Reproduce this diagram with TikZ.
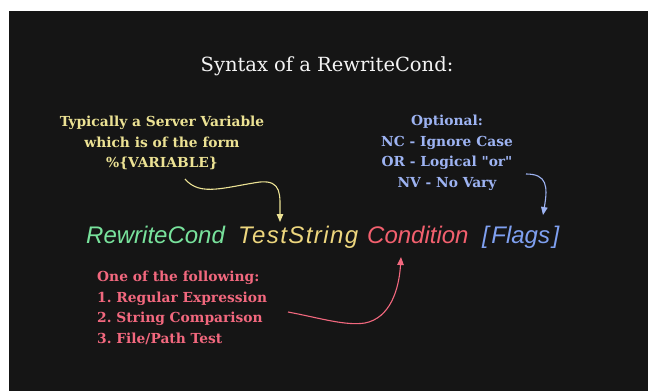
\documentclass[tikz,border=0pt]{standalone}
\usepackage{fontspec}
\setmainfont{DejaVu Serif}[Ligatures=TeXOff]
\newfontfamily\handfont{Liberation Sans}
\usetikzlibrary{arrows.meta}
\definecolor{bg}{HTML}{151515}
\definecolor{titlec}{HTML}{F4F4F4}
\definecolor{noteyellow}{HTML}{ECE294}
\definecolor{noteblue}{HTML}{9DB3F2}
\definecolor{notered}{HTML}{F2687E}
\definecolor{kwgreen}{HTML}{78E29C}
\definecolor{kwyellow}{HTML}{EDD67E}
\definecolor{kwred}{HTML}{F2606E}
\definecolor{kwblue}{HTML}{7FA0F0}
\tikzset{
  note/.style={inner sep=0pt, font=\bfseries\fontsize{13.8}{20.5}\selectfont},
  kw/.style={inner sep=0pt, anchor=base west, font=\handfont\itshape\fontsize{24}{26}\selectfont},
  pointer/.style={line width=1.1pt, -{Triangle[length=8pt,width=6.5pt]}},
}
\frenchspacing
\begin{document}
\begin{tikzpicture}[x=1pt,y=-1pt]
  \useasboundingbox (0,0) rectangle (648,391);
  \fill[white] (0,0) rectangle (648,391);
  \fill[bg] (9,11) rectangle (648,391);

  % heading
  \node[inner sep=0pt, text=titlec, font=\fontsize{19.5}{22}\selectfont] (title) at (327,66) {Syntax of a RewriteCond:};

  % the directive line
  \node[kw, text=kwgreen]  (rc)   at (86,243)  {RewriteCond};
  \node[kw, text=kwyellow] (ts)   at (238,243) {\addfontfeature{LetterSpace=6}TestString};
  \node[kw, text=kwred]    (cond) at (367,243) {Condition};
  \node[kw, text=kwblue]   (flags) at (482,243) {[\hspace{2.5pt}Flags\hspace{2.5pt}]};

  % annotations
  \node[note, text=noteyellow, align=center] (varnote) at (162,143)
    {Typically a Server Variable\\which is of the form\\\%\{VARIABLE\}};
  \node[note, text=noteblue, align=center] (flagnote) at (447,153)
    {Optional:\\NC - Ignore Case\\OR - Logical "or"\\NV - No Vary};
  \node[note, text=notered, align=left, anchor=west] (condnote) at (97,308)
    {One of the following:\\1. Regular Expression\\2. String Comparison\\3. File/Path Test};

  % pointer ends
  \coordinate (ya) at (185,179);
  \coordinate (yb) at (280,222);
  \coordinate (ba) at (526,174);
  \coordinate (bb) at (543,215);
  \coordinate (ra) at (288,312);
  \coordinate (rb) at (401,257);

  \draw[pointer, noteyellow] (ya) .. controls (200,197) and (225,187) .. (260,182)
                                  .. controls (282,180) and (280,195) .. (yb);
  \draw[pointer, noteblue] (ba) .. controls (547,174) and (548,186) .. (bb);
  \draw[pointer, notered] (ra) .. controls (320,318) and (345,326) .. (365,323)
                               .. controls (390,318) and (399,290) .. (rb);
\end{tikzpicture}
\end{document}
